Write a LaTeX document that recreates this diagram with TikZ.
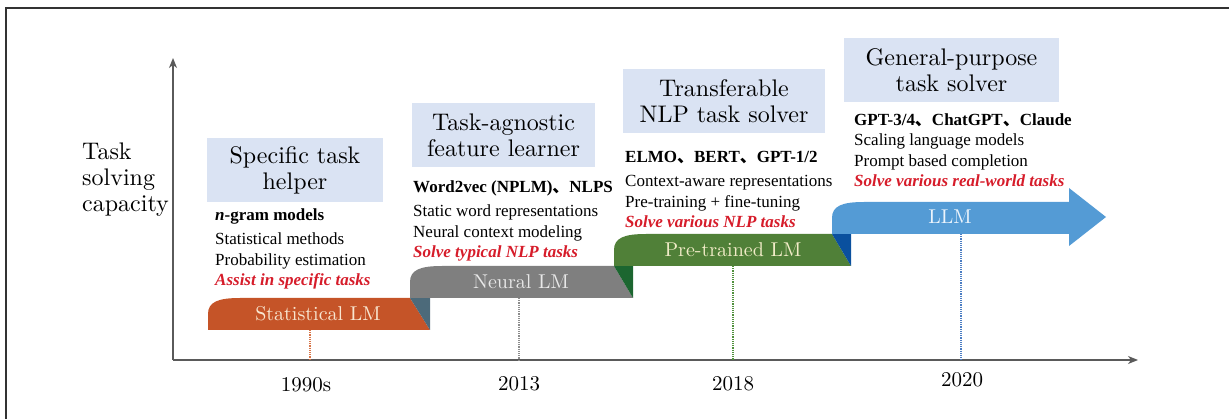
\documentclass[tikz,border=0pt]{standalone}
\usepackage{fontspec}
\newfontfamily\bodyfont{Liberation Serif}
\newfontfamily\headfont{lmroman10-regular.otf}
\newfontfamily\cjk{Noto Sans CJK SC}
\usetikzlibrary{arrows.meta}

\definecolor{headblue}{RGB}{218,227,243}
\definecolor{framegray}{RGB}{50,50,50}
\definecolor{axisgray}{RGB}{90,90,90}
\definecolor{statorange}{RGB}{197,84,40}
\definecolor{statfold}{RGB}{76,106,122}
\definecolor{neuralgray}{RGB}{127,127,127}
\definecolor{ptgreen}{RGB}{80,128,56}
\definecolor{ptfold}{RGB}{28,102,48}
\definecolor{llmblue}{RGB}{84,155,213}
\definecolor{llmfold}{RGB}{10,80,158}
\definecolor{redtext}{RGB}{214,28,42}
\definecolor{statlabel}{RGB}{248,230,208}
\definecolor{neurallabel}{RGB}{232,232,232}
\definecolor{ptlabel}{RGB}{242,236,200}
\definecolor{llmlabel}{RGB}{236,244,252}
\definecolor{dotorange}{RGB}{215,115,70}
\definecolor{dotgray}{RGB}{140,140,140}
\definecolor{dotgreen}{RGB}{80,145,60}
\definecolor{dotblue}{RGB}{75,125,195}

\newcommand{\cjkcomma}{{\cjk 、}}
\newcommand{\goal}[1]{\textcolor{redtext}{\bfseries\itshape #1}}

\begin{document}
\begin{tikzpicture}[x=1pt,y=-1pt,
  headbox/.style={fill=headblue, text=black, minimum height=64pt, inner sep=0pt,
    align=center, font=\headfont\fontsize{24}{26}\selectfont},
  bodytext/.style={anchor=base west, align=left, inner sep=0pt,
    font=\bodyfont\fontsize{17}{20.5}\selectfont},
  bandlabel/.style={font=\headfont\fontsize{20}{22}\selectfont, inner sep=0pt},
  yearlabel/.style={font=\headfont\fontsize{21}{24}\selectfont, inner sep=0pt},
  yeartick/.style={densely dotted, line width=1.2pt},
  axisline/.style={draw=axisgray, line width=1.5pt,
    -{Stealth[length=10pt,width=8pt,inset=3pt]}}
]
\useasboundingbox (0,0) rectangle (1229,419);

% page frame
\draw[framegray, line width=2pt] (6,419) -- (6,8) -- (1229,8);

% axes
\coordinate (origin) at (173,360);
\coordinate (ytop) at (173,58);
\coordinate (xend) at (1138,360);
\draw[axisline] (origin) -- (ytop);
\draw[axisline] (origin) -- (xend);

\node[anchor=base west, align=left, inner sep=0pt,
  font=\headfont\fontsize{24}{26}\selectfont] (ylabel) at (82,212)
  {Task\\solving\\capacity};

% stage bands
\fill[statorange] (208,330) -- (208,314) .. controls (208,302) and (218,298) .. (240,298)
  -- (410,298) -- (430,330) -- cycle;
\fill[statfold] (410,298) -- (430,298) -- (430,330) -- cycle;

\fill[neuralgray] (410,298) -- (410,282) .. controls (410,270) and (420,266) .. (442,266)
  -- (614,266) -- (633,298) -- cycle;
\fill[ptfold] (614,266) -- (633,266) -- (633,298) -- cycle;

\fill[ptgreen] (614,266) -- (614,250) .. controls (614,238) and (624,234) .. (646,234)
  -- (832,234) -- (851,266) -- cycle;
\fill[llmfold] (832,234) -- (851,234) -- (851,266) -- cycle;

\fill[llmblue] (832,234) -- (832,218) .. controls (832,206) and (842,202) .. (864,202)
  -- (1069,202) -- (1069,188) -- (1106,217) -- (1069,246) -- (1069,234) -- cycle;

\node[bandlabel, text=statlabel] (stat) at (318,314) {Statistical LM};
\node[bandlabel, text=neurallabel] (neural) at (521,282) {Neural LM};
\node[bandlabel, text=ptlabel] (pretrained) at (733,250) {Pre-trained LM};
\node[bandlabel, text=llmlabel] (llm) at (950,217) {LLM};

% year markers
\coordinate (t1) at (310,330);
\coordinate (t2) at (519,298);
\coordinate (t3) at (733,266);
\coordinate (t4) at (961,234);
\draw[yeartick, dotorange] (t1) -- (t1 |- origin);
\draw[yeartick, dotgray] (t2) -- (t2 |- origin);
\draw[yeartick, dotgreen] (t3) -- (t3 |- origin);
\draw[yeartick, dotblue] (t4) -- (t4 |- origin);

\node[yearlabel] (y1990) at (306,385) {1990s};
\node[yearlabel] (y2013) at (519,384) {2013};
\node[yearlabel] (y2018) at (733,384) {2018};
\node[yearlabel] (y2020) at (962,380) {2020};

% stage titles
\node[headbox, minimum width=176pt] (h1) at (295,170) {Specific task\\helper};
\node[headbox, minimum width=183pt] (h2) at (503.5,135) {Task-agnostic\\feature learner};
\node[headbox, minimum width=202pt] (h3) at (724,101.5) {Transferable\\NLP task solver};
\node[headbox, minimum width=215pt] (h4) at (951.5,70) {General-purpose\\task solver};

% stage descriptions (anchored at the baseline of the last line)
\node[bodytext] (d1) at (215,286)
  {\textbf{\textit{n}-gram models}\\[3.5pt]
   Statistical methods\\
   Probability estimation\\
   \goal{Assist in specific tasks}};
\node[bodytext] (d2) at (413,258)
  {\textbf{Word2vec (NPLM)\cjkcomma NLPS}\\[4pt]
   Static word representations\\
   Neural context modeling\\
   \goal{Solve typical NLP tasks}};
\node[bodytext] (d3) at (625,228)
  {\textbf{ELMO\cjkcomma BERT\cjkcomma GPT-1/2}\\[3.5pt]
   Context-aware representations\\
   Pre-training + fine-tuning\\
   \goal{Solve various NLP tasks}};
\node[bodytext] (d4) at (854,187)
  {\textbf{GPT-3/4\cjkcomma ChatGPT\cjkcomma Claude}\\
   Scaling language models\\
   Prompt based completion\\
   \goal{Solve various real-world tasks}};
\end{tikzpicture}
\end{document}
